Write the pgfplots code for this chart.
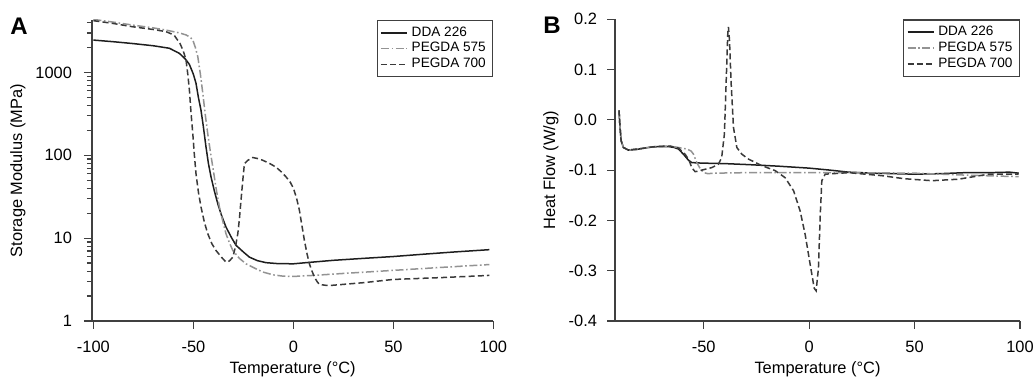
\documentclass[border=0pt]{standalone}
\usepackage{fontspec}
\setmainfont{Liberation Sans}
\usepackage{pgfplots}
\pgfplotsset{compat=1.18}
\definecolor{c575}{HTML}{939393}
\definecolor{c700}{HTML}{3A3A3A}
\definecolor{cdda}{HTML}{1E1E1E}
\pgfplotsset{
  myax/.style={
    scale only axis,
    axis x line*=bottom, axis y line*=left,
    axis line style={-, black!75, line width=0.6pt},
    tick align=outside,
    major tick length=4pt, minor tick length=2.5pt,
    every tick/.style={black!75, line width=0.6pt},
    tick label style={font=\fontsize{8.2}{9}\selectfont},
    xticklabel style={yshift=-2.5pt},
    label style={font=\fontsize{8.2}{9}\selectfont},
    /pgf/number format/assume math mode=true,
    legend style={at={(1,1)}, anchor=north east, draw=black!75, line width=0.6pt,
      font=\fontsize{6.8}{7.6}\selectfont, inner xsep=1.5pt, inner ysep=1pt,
      row sep=-2.3pt, cells={anchor=west}},
    legend cell align=left,
    legend image code/.code={\draw[##1] (0pt,0pt) -- (13pt,0pt);},
    xlabel style={at={(axis description cs:0.5,0)}, anchor=base, yshift=-26.5pt},
  },
  dda/.style={cdda, line width=0.75pt},
  p575/.style={c575, line width=0.75pt, dash pattern=on 4pt off 1.3pt on 0.8pt off 1.3pt},
  p700/.style={c700, line width=0.75pt, dash pattern=on 3pt off 1.6pt},
}
\begin{document}
\begin{tikzpicture}
\useasboundingbox (0,0) rectangle (517.5pt,189pt);
% ---------------- Panel A ----------------
\begin{axis}[myax, at={(46pt,28.5pt)}, anchor=south west,
  width=200.7pt, height=150.5pt,
  ymode=log, xmin=-100.7, xmax=100, ymin=1, ymax=4300,
  xtick={-100,-50,0,50,100}, xticklabels={-100,-50,0,50,100},
  ytick={1,10,100,1000}, yticklabels={1,10,100,1000},
  yticklabel style={xshift=-2.5pt},
  minor ytick={2,3,4,5,6,7,8,9,20,30,40,50,60,70,80,90,200,300,400,500,600,700,800,900,2000,3000,4000},
  xlabel={Temperature (°C)}, ylabel={Storage Modulus (MPa)},
  ylabel style={at={(axis description cs:0,0.5)}, anchor=center, yshift=37pt},
]
\addplot[dda] coordinates {(-100,2460) (-90,2350) (-80,2230) (-70,2100) (-62,1960) (-57,1700) (-54,1450) (-52,1250) (-50,950) (-48.7,740) (-47.5,500) (-46.2,350) (-45,220) (-43.7,126) (-42.5,80) (-41.2,55) (-39.5,37) (-37.8,26) (-36,19) (-33.7,13.6) (-31,10.2) (-28.7,8.2) (-25,6.8) (-22,5.9) (-18,5.35) (-13.7,5.06) (-8,4.93) (0,4.9) (8,5.1) (20,5.4) (35,5.7) (50,6.0) (65,6.4) (80,6.8) (98,7.26)};
\addlegendentry{DDA 226}
\addplot[p575] coordinates {(-100,4370) (-90,4050) (-80.3,3730) (-70,3450) (-63.7,3250) (-57,3000) (-53.7,2840) (-51.5,2650) (-50.3,2460) (-49,2000) (-47.8,1550) (-46.5,950) (-45.3,560) (-44,300) (-42.8,180) (-41.5,110) (-40.3,72) (-38.5,38) (-37,23.8) (-35.3,16) (-33.7,11.3) (-32,8.8) (-30.3,7.1) (-27,5.7) (-23.7,4.9) (-19,4.3) (-15.3,3.9) (-10,3.6) (-5.3,3.48) (0,3.45) (10,3.55) (25,3.75) (49.7,4.08) (75,4.45) (98,4.8)};
\addlegendentry{PEGDA 575}
\addplot[p700] coordinates {(-100,4220) (-90,3900) (-80.3,3560) (-70,3300) (-63.7,3110) (-59.7,2830) (-56.7,2240) (-55,1800) (-53.7,1420) (-52.8,950) (-52,615) (-51.2,330) (-50.3,182) (-49.5,100) (-48.7,60) (-47.5,36) (-46.2,23.8) (-44.5,15.5) (-42.8,11.3) (-40.8,8.6) (-38.7,7.1) (-36,5.9) (-33.7,5.14) (-32,5.3) (-30.3,5.9) (-29,7.8) (-27.8,11.3) (-27,17) (-26.2,28.6) (-25.3,50) (-24.5,79) (-22.8,87) (-20.3,94) (-17.5,91) (-15.3,87) (-12,80) (-8.7,72) (-6,63) (-3.7,55) (-1.5,47) (0,40) (1.5,31) (3,21.7) (4.3,14) (5.5,9.4) (6.8,6.5) (8,4.9) (9.3,4) (10.5,3.4) (11.8,3) (13,2.76) (16,2.7) (19.7,2.7) (35,2.9) (49.7,3.17) (75,3.35) (98,3.55)};
\addlegendentry{PEGDA 700}
\end{axis}
% ---------------- Panel B ----------------
\begin{axis}[myax, at={(307.5pt,28.5pt)}, anchor=south west,
  width=202.5pt, height=150.85pt,
  xmin=-92.1, xmax=100, ymin=-0.4, ymax=0.2,
  xtick={-50,0,50,100}, xticklabels={-50,0,50,100},
  ytick={-0.4,-0.3,-0.2,-0.1,0,0.1,0.2}, yticklabels={-0.4,-0.3,-0.2,-0.1,0.0,0.1,0.2},
  yticklabel style={xshift=-1.5pt},
  xlabel={Temperature (°C)}, ylabel={Heat Flow (W/g)},
  ylabel style={at={(axis description cs:0,0.5)}, anchor=center, yshift=32pt},
]
\addplot[dda] coordinates {(-90.2,0.019) (-89.8,-0.01) (-89.2,-0.041) (-88.1,-0.055) (-85.8,-0.060) (-82,-0.059) (-79.4,-0.057) (-75,-0.054) (-70,-0.053) (-66.8,-0.053) (-64,-0.055) (-62,-0.058) (-59.7,-0.068) (-57.3,-0.080) (-55.7,-0.085) (-51,-0.086) (-40,-0.087) (-28.8,-0.089) (-15,-0.092) (0,-0.096) (10,-0.1) (18.7,-0.104) (30,-0.106) (50,-0.108) (62,-0.107) (74,-0.105) (85,-0.105) (95,-0.104) (99.4,-0.106)};
\addlegendentry{DDA 226}
\addplot[p575] coordinates {(-90.2,0.019) (-89.8,-0.01) (-89.2,-0.041) (-88.1,-0.055) (-85.8,-0.060) (-79.4,-0.057) (-73,-0.053) (-66,-0.052) (-62,-0.055) (-58,-0.058) (-56,-0.062) (-54.9,-0.068) (-53.3,-0.085) (-51.7,-0.097) (-50,-0.105) (-48,-0.107) (-45,-0.106) (-30,-0.105) (0,-0.105) (20,-0.105) (50,-0.106) (75,-0.110) (99.4,-0.113)};
\addlegendentry{PEGDA 575}
\addplot[p700] coordinates {(-90.2,0.019) (-89.8,-0.01) (-89.2,-0.041) (-88.1,-0.055) (-85.8,-0.060) (-79.4,-0.057) (-73,-0.053) (-66,-0.052) (-62,-0.056) (-58.9,-0.068) (-57,-0.08) (-55.7,-0.095) (-54.1,-0.103) (-52.5,-0.102) (-51,-0.1) (-46.2,-0.095) (-43,-0.088) (-41.5,-0.075) (-40.2,-0.028) (-39.4,0.072) (-38.6,0.172) (-38.3,0.185) (-37.8,0.159) (-37,0.072) (-35.9,-0.015) (-34.3,-0.055) (-32,-0.068) (-28.8,-0.078) (-22.5,-0.091) (-16.1,-0.101) (-11.4,-0.115) (-7.4,-0.141) (-4.3,-0.181) (-1.9,-0.228) (0.5,-0.288) (2.4,-0.335) (3.3,-0.340) (4.4,-0.295) (5.2,-0.195) (6,-0.121) (7.6,-0.108) (18.7,-0.105) (34.5,-0.111) (45,-0.117) (58.2,-0.121) (70.9,-0.118) (85.1,-0.108) (99.4,-0.108)};
\addlegendentry{PEGDA 700}
\end{axis}
\node[font=\bfseries\fontsize{12}{12}\selectfont, anchor=base west, inner sep=0pt] at (5pt,171.5pt) {A};
\node[font=\bfseries\fontsize{12}{12}\selectfont, anchor=base west, inner sep=0pt] at (271.5pt,172pt) {B};
\end{tikzpicture}
\end{document}
